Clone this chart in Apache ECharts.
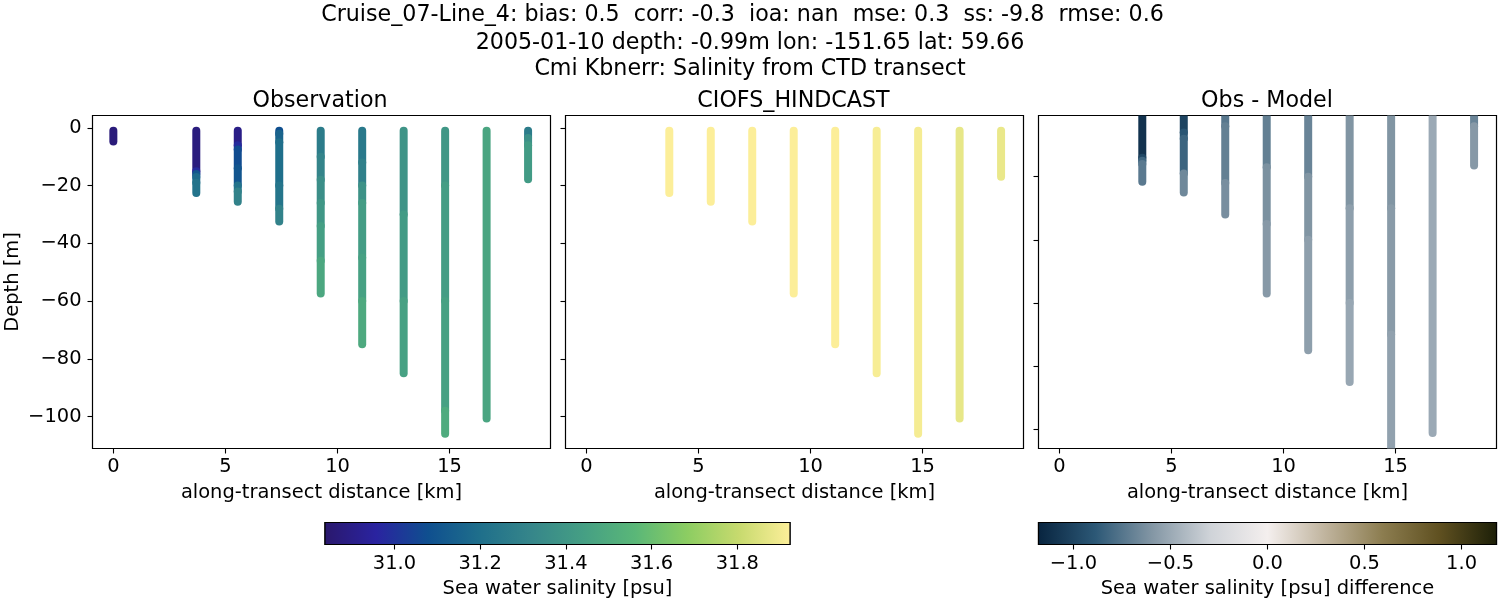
<!DOCTYPE html>
<html>
<head>
<meta charset="utf-8">
<style>
  html, body { margin: 0; padding: 0; background: #fff; }
  #chart { width: 1500px; height: 600px; }
</style>
<script src="https://cdn.jsdelivr.net/npm/echarts@6/dist/echarts.min.js"></script>
</head>
<body>
<div id="chart"></div>
<script>
const titleLines = [
  'Cruise_07-Line_4: bias: 0.5  corr: -0.3  ioa: nan  mse: 0.3  ss: -9.8  rmse: 0.6',
  '2005-01-10 depth: -0.99m lon: -151.65 lat: 59.66',
  'Cmi Kbnerr: Salinity from CTD transect'
]
const panelTitles = ['Observation', 'CIOFS_HINDCAST', 'Obs - Model']

const distanceTicks = [0, 5, 10, 15]
const depthTicks = [0, -20, -40, -60, -80, -100]
const diffDepthTicks = [-20, -40, -60, -80, -100]
const salinityTicks = [31.0, 31.2, 31.4, 31.6, 31.8]
const diffTicks = [-1.0, -0.5, 0.0, 0.5, 1.0]

// station positions along the transect [km]
const stations = [0, 3.7, 5.55, 7.4, 9.25, 11.1, 12.95, 14.8, 16.65, 18.5]

// per station: runs of [top depth, bottom depth, value]
const obsRuns = [
  [[-1, -4.7, 30.87]],
  [[-1, -15, 30.88], [-15, -16, 30.98], [-16, -17, 31.1], [-17, -19, 31.18], [-19, -22.6, 31.22]],
  [[-1, -6, 30.9], [-6, -7.5, 30.98], [-7.5, -14, 31.07], [-14, -20, 31.1], [-20, -22, 31.22], [-22, -25.6, 31.3]],
  [[-1, -2, 31.08], [-2, -5, 31.16], [-5, -20, 31.2], [-20, -28, 31.23], [-28, -32.4, 31.3]],
  [[-1, -10, 31.27], [-10, -18, 31.31], [-18, -26, 31.36], [-26, -34, 31.4], [-34, -46, 31.44], [-46, -57.4, 31.48]],
  [[-1, -12, 31.25], [-12, -20, 31.29], [-20, -26, 31.38], [-26, -45, 31.43], [-45, -60, 31.45], [-60, -75, 31.49]],
  [[-1, -30, 31.39], [-30, -60, 31.42], [-60, -85, 31.45]],
  [[-1, -20, 31.4], [-20, -60, 31.43], [-60, -98, 31.45], [-98, -106, 31.5]],
  [[-1, -100.7, 31.47]],
  [[-1, -3.5, 31.27], [-3.5, -6, 31.37], [-6, -17.8, 31.42]]
]
const modelRuns = [
  [],
  [[-1, -22.6, 31.92]],
  [[-1, -25.6, 31.92]],
  [[-1, -32.4, 31.92]],
  [[-1, -57.4, 31.92]],
  [[-1, -75, 31.92]],
  [[-1, -85, 31.91]],
  [[-1, -106, 31.905]],
  [[-1, -100.7, 31.875]],
  [[-1, -16.9, 31.88]]
]
const diffRuns = [
  [],
  [[-1, -14, -1.1], [-14, -15, -0.98], [-15, -16, -0.82], [-16, -21.6, -0.73]],
  [[-1, -6, -1.0], [-6, -8, -0.9], [-8, -19, -0.83], [-19, -25, -0.66]],
  [[-1, -4, -0.74], [-4, -22, -0.7], [-22, -32, -0.63]],
  [[-1, -17, -0.7], [-17, -35, -0.62], [-35, -57, -0.58]],
  [[-1, -20, -0.68], [-20, -40, -0.6], [-40, -75, -0.55]],
  [[-1, -30, -0.6], [-30, -60, -0.55], [-60, -85, -0.51]],
  [[-1, -30, -0.6], [-30, -70, -0.57], [-70, -108, -0.54]],
  [[-1, -101.2, -0.5]],
  [[-1, -4, -0.68], [-4, -16.5, -0.58]]
]

const salinityRange = [30.838, 31.923]
const diffRange = [-1.18, 1.18]
const salinityColors = ['#2a186c', '#2a23a0', '#0f4f8f', '#1f6f8b', '#36868a', '#459f84', '#5ab778', '#8ccd62', '#c7da6e', '#fdef9a']
const diffColors = ['#08243f', '#2c5876', '#8497a5', '#cfd3d8', '#f4efee', '#c0b49e', '#8c7d50', '#5f5020', '#1c1f08']

const font = 'DejaVu Sans'
const minus = v => String(v).replace('-', '\u2212')

const panels = [
  { left: 92.5, runs: obsRuns, yMin: -111.1, yMax: 4.3, ticks: depthTicks, labels: true, vm: 'sal' },
  { left: 565.5, runs: modelRuns, yMin: -111.1, yMax: 4.3, ticks: depthTicks, labels: false, vm: 'sal' },
  { left: 1038.5, runs: diffRuns, yMin: -106.1, yMax: -0.63, ticks: diffDepthTicks, labels: false, vm: 'diff' }
]

function toItems(runs) {
  const items = []
  runs.forEach((list, i) => {
    list.forEach(r => items.push([stations[i], r[0], r[1], r[2]]))
  })
  return items
}

function renderRun(params, api) {
  const a = api.coord([api.value(0), api.value(1)])
  const b = api.coord([api.value(0), api.value(2)])
  return {
    type: 'line',
    shape: { x1: a[0], y1: a[1], x2: b[0], y2: b[1] },
    style: { stroke: api.visual('color'), lineWidth: 8, lineCap: 'round', fill: null }
  }
}

function renderBar(colors) {
  const stops = colors.map((c, i) => ({ offset: i / (colors.length - 1), color: c }))
  return function (params, api) {
    const a = api.coord([api.value(0), 1])
    const b = api.coord([api.value(1), 0])
    return {
      type: 'rect',
      shape: { x: a[0], y: a[1], width: b[0] - a[0], height: b[1] - a[1] },
      style: { fill: new echarts.graphic.LinearGradient(0, 0, 1, 0, stops), stroke: '#000', lineWidth: 1.2 }
    }
  }
}

const tickStyle = { length: 5, lineStyle: { color: '#000', width: 1.1 } }
const labelStyle = { color: '#000', fontFamily: font, fontSize: 19.44 }
const nameStyle = { color: '#000', fontFamily: font, fontSize: 19.44 }

const grids = [], xAxes = [], yAxes = [], series = []
const salSeries = [], diffSeries = []

panels.forEach((p, i) => {
  grids.push({ left: p.left, top: 115.5, width: 458, height: 333, show: true, borderColor: '#000', borderWidth: 1.2, backgroundColor: '#fff' })
  xAxes.push({
    type: 'value', gridIndex: i, min: -0.93, max: 19.5,
    name: 'along-transect distance [km]', nameLocation: 'middle', nameGap: 35, nameTextStyle: nameStyle,
    axisLine: { show: false, onZero: false }, splitLine: { show: false },
    axisTick: { ...tickStyle, customValues: distanceTicks },
    axisLabel: { ...labelStyle, margin: 9, customValues: distanceTicks, formatter: v => String(v) }
  })
  yAxes.push({
    type: 'value', gridIndex: i, min: p.yMin, max: p.yMax,
    name: i === 0 ? 'Depth [m]' : '', nameLocation: 'middle', nameGap: 70, nameTextStyle: nameStyle,
    axisLine: { show: false, onZero: false }, splitLine: { show: false },
    axisTick: { ...tickStyle, customValues: p.ticks },
    axisLabel: { ...labelStyle, show: p.labels, margin: 11, padding: [2, 0, 0, 0], customValues: p.ticks, formatter: v => minus(v) }
  })
  if (p.vm === 'sal') salSeries.push(series.length); else diffSeries.push(series.length)
  series.push({
    type: 'custom', xAxisIndex: i, yAxisIndex: i, clip: true, silent: true,
    encode: { x: 0, y: [1, 2] },
    renderItem: renderRun,
    data: toItems(p.runs)
  })
})

// colour bars
const bars = [
  { left: 325, width: 465, range: salinityRange, ticks: salinityTicks, colors: salinityColors, name: 'Sea water salinity [psu]', fmt: v => v.toFixed(1) },
  { left: 1038.5, width: 458, range: diffRange, ticks: diffTicks, colors: diffColors, name: 'Sea water salinity [psu] difference', fmt: v => minus(v.toFixed(1)) }
]
bars.forEach((b, k) => {
  const i = panels.length + k
  grids.push({ left: b.left, top: 522.5, width: b.width, height: 22, show: true, borderColor: '#000', borderWidth: 1.2 })
  xAxes.push({
    type: 'value', gridIndex: i, min: b.range[0], max: b.range[1],
    name: b.name, nameLocation: 'middle', nameGap: 35, nameTextStyle: nameStyle,
    axisLine: { show: false, onZero: false }, splitLine: { show: false },
    axisTick: { ...tickStyle, customValues: b.ticks },
    axisLabel: { ...labelStyle, margin: 10, customValues: b.ticks, formatter: b.fmt }
  })
  yAxes.push({ type: 'value', gridIndex: i, min: 0, max: 1, show: false })
  series.push({
    type: 'custom', xAxisIndex: i, yAxisIndex: i, silent: true,
    encode: { x: [0, 1] },
    renderItem: renderBar(b.colors),
    data: [[b.range[0], b.range[1]]]
  })
})

const titles = []
const lineX = [742.5, 750, 750]
const lineY = [15, 43, 69]
titleLines.forEach((t, i) => {
  titles.push({ text: t, left: lineX[i], top: lineY[i], textAlign: 'center', textVerticalAlign: 'middle', padding: 0, textStyle: { color: '#000', fontFamily: font, fontSize: 22.2, fontWeight: 'normal' } })
})
const panelCenters = [320, 793.5, 1267]
panelTitles.forEach((t, i) => {
  titles.push({ text: t, left: panelCenters[i], top: 101, textAlign: 'center', textVerticalAlign: 'middle', padding: 0, textStyle: { color: '#000', fontFamily: font, fontSize: 22.2, fontWeight: 'normal' } })
})

const chart = echarts.init(document.getElementById('chart'), null, { width: 1500, height: 600 })
chart.setOption({
  animation: false,
  backgroundColor: '#fff',
  title: titles,
  grid: grids,
  xAxis: xAxes,
  yAxis: yAxes,
  visualMap: [
    { show: false, type: 'continuous', seriesIndex: salSeries, dimension: 3, min: salinityRange[0], max: salinityRange[1], inRange: { color: salinityColors } },
    { show: false, type: 'continuous', seriesIndex: diffSeries, dimension: 3, min: diffRange[0], max: diffRange[1], inRange: { color: diffColors } }
  ],
  series: series
})
</script>
</body>
</html>
